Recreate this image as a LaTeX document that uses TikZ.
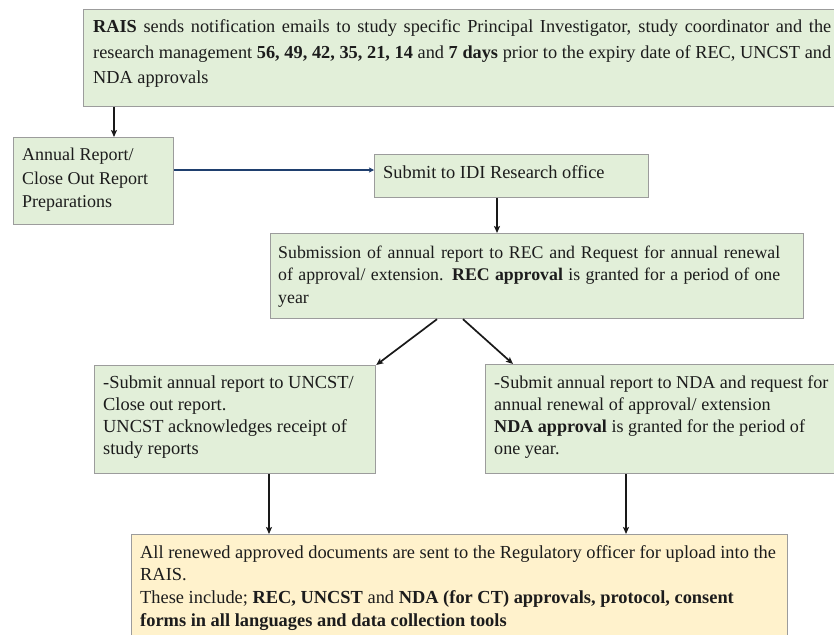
\documentclass[tikz,border=0pt]{standalone}
\usepackage{fontspec}
\setmainfont{Liberation Serif}
\usetikzlibrary{arrows.meta}
\definecolor{boxgreen}{HTML}{E2EFD9}
\definecolor{boxyellow}{HTML}{FFF2CC}
\definecolor{edgegray}{HTML}{9C9C9C}
\definecolor{txt}{HTML}{1C1C1C}
\definecolor{navy}{HTML}{1F3F6E}
\newcommand\btext[4]{\parbox[t]{#1}{\fontsize{#2}{#3}\selectfont\raggedright #4}}
\begin{document}
\begin{tikzpicture}[x=1pt,y=-1pt,
  gbox/.style={draw=edgegray, line width=1.2pt, fill=boxgreen, anchor=north west, inner sep=0pt},
  ybox/.style={gbox, fill=boxyellow},
  lbl/.style={anchor=base west, inner sep=0pt, text=txt},
  conn/.style={draw=black!90, line width=1.7pt, -{Stealth[length=7pt,width=6pt,inset=1.5pt]}},
  thickconn/.style={conn, line width=2.4pt},
  blueconn/.style={draw=navy, line width=2.2pt, -{Stealth[length=5pt,width=5pt,inset=1pt]}}
]
\useasboundingbox (0,0) rectangle (834,634);
\clip (0,0) rectangle (834,634);
\fill[white] (0,0) rectangle (834,634);

% boxes
\node[gbox, minimum width=780pt, minimum height=97pt] (top) at (83,9) {};
\node[gbox, minimum width=160pt, minimum height=87pt] (annual) at (13,137) {};
\node[gbox, minimum width=274pt, minimum height=43pt] (submit) at (374,154) {};
\node[gbox, minimum width=533pt, minimum height=85pt] (rec) at (270,233) {};
\node[gbox, minimum width=281pt, minimum height=108pt] (uncst) at (94,365) {};
\node[gbox, minimum width=380pt, minimum height=109pt] (nda) at (485,364) {};
\node[ybox, minimum width=656pt, minimum height=130pt] (docs) at (131,534) {};

% texts
\node[lbl] (ttop) at (93,33) {\btext{800pt}{18.3}{25.5}{\makebox[738pt][s]{\textbf{RAIS} sends notification emails to study specific Principal Investigator, study coordinator and the}\\
\makebox[738pt][s]{research management \textbf{56, 49, 42, 35, 21, 14} and \textbf{7 days} prior to the expiry date of REC, UNCST and}\\
NDA approvals}};
\node[lbl] (tannual) at (22,160.5) {\btext{150pt}{18}{23.5}{Annual Report/\\Close Out Report\\Preparations}};
\node[lbl] (tsubmit) at (383,178) {\btext{260pt}{18.4}{22}{Submit to IDI Research office}};
\node[lbl] (trec) at (278,258) {\btext{520pt}{17.8}{22.5}{\makebox[502pt][s]{Submission of annual report to REC and Request for annual renewal}\\
\makebox[502pt][s]{of approval/ extension. \textbf{REC approval} is granted for a period of one}\\
year}};
\node[lbl] (tuncst) at (103,388) {\btext{270pt}{18.4}{22.3}{-Submit annual report to UNCST/\\Close out report.\\UNCST acknowledges receipt of\\study reports}};
\node[lbl] (tnda) at (494,388) {\btext{338pt}{18.1}{22.3}{-Submit annual report to NDA and request for\\annual renewal of approval/ extension\\\textbf{NDA approval} is granted for the period of\\one year.}};
\node[lbl] (tdocs) at (140,558) {\btext{660pt}{18.4}{22.7}{All renewed approved documents are sent to the Regulatory officer for upload into the\\
RAIS.\\
These include; \textbf{REC, UNCST} and \textbf{NDA (for CT) approvals, protocol, consent}\\
\textbf{forms in all languages and data collection tools}}};

% connector x/y positions
\coordinate (c1) at (114,0);
\coordinate (c2) at (0,170);
\coordinate (c3) at (497,0);
\coordinate (c4) at (437,0);
\coordinate (c5) at (463,0);
\coordinate (c6) at (513,0);
\coordinate (c7) at (269,0);
\coordinate (c8) at (626,0);

\draw[thickconn] (top.south -| c1) -- (annual.north -| c1);
\draw[blueconn] (annual.east |- c2) -- (submit.west |- c2);
\draw[conn] (submit.south -| c3) -- (rec.north -| c3);
\draw[conn] (rec.south -| c4) -- (uncst.north east);
\draw[conn] (rec.south -| c5) -- (nda.north -| c6);
\draw[conn] (uncst.south -| c7) -- (docs.north -| c7);
\draw[conn] (nda.south -| c8) -- (docs.north -| c8);
\end{tikzpicture}
\end{document}
